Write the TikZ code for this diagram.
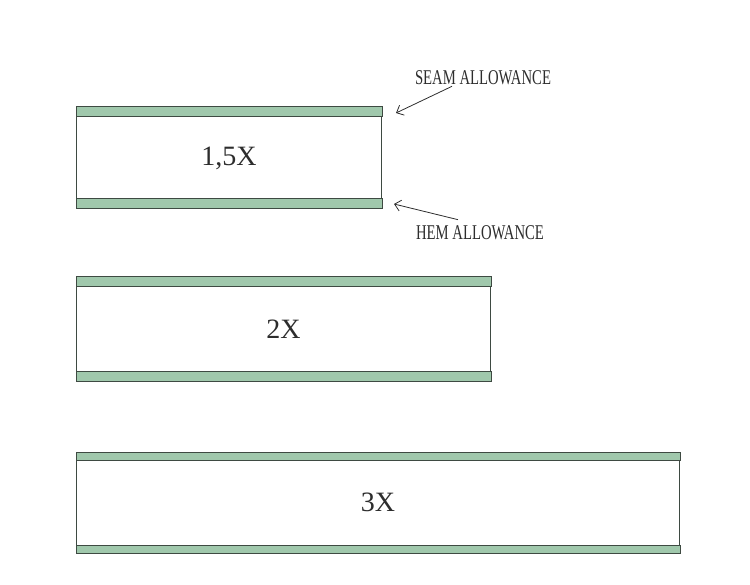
\documentclass[tikz,border=0pt]{standalone}
\usepackage{fontspec}
\setmainfont{Liberation Serif}
\newfontfamily\lblfont[FakeStretch=0.7]{Liberation Serif}
\usetikzlibrary{arrows.meta, positioning, calc}
\definecolor{cStrip}{RGB}{160,200,172}
\definecolor{cEdge}{RGB}{62,74,66}
\definecolor{cInk}{RGB}{45,45,45}
\tikzset{
	panel/.style  ={rectangle, draw=cEdge, line width=1pt, fill=white, inner sep=0pt, text=cInk, font=\fontsize{28}{30}\selectfont},
	strip/.style  ={fill=cStrip, draw=cEdge, line width=1pt},
	lbl/.style    ={font=\lblfont\fontsize{21}{23}\selectfont, text=cInk, inner sep=1pt},
	pointer/.style={-{Straight Barb[length=6pt, width=11pt]}, draw=cInk, line width=0.8pt},
}
\begin{document}
\begin{tikzpicture}[x=1pt, y=-1pt]
	\useasboundingbox (0,0) rectangle (750,585);
	% three panels, each with seam strip on top and hem strip below
	\foreach \name/\plen/\ptop/\phgt/\sw/\txt in {one/305/107/101/10/{1,5X}, two/414/277/104/10/2X, three/603/452/100/8/3X} {
		\node[panel, anchor=north west, minimum width=\plen pt, minimum height=\phgt pt] (\name) at (76,\ptop) {\txt};
		\draw[strip] (\name.north west) rectangle ($(\name.north east)+(0,\sw)$);
		\draw[strip] ($(\name.south west)+(0,-\sw)$) rectangle (\name.south east);
	}
	\node[lbl] (seam) at (483,78) {SEAM ALLOWANCE};
	\node[lbl] (hem) at (480,233) {HEM ALLOWANCE};
	\coordinate (seamtip) at ($(one.north east)+(14,6)$);
	\coordinate (hemtip) at ($(one.south east)+(12,-5)$);
	\draw[pointer] ([xshift=-31pt]seam.south) -- (seamtip);
	\draw[pointer] ([xshift=-22pt, yshift=5pt]hem.north) -- (hemtip);
\end{tikzpicture}
\end{document}
